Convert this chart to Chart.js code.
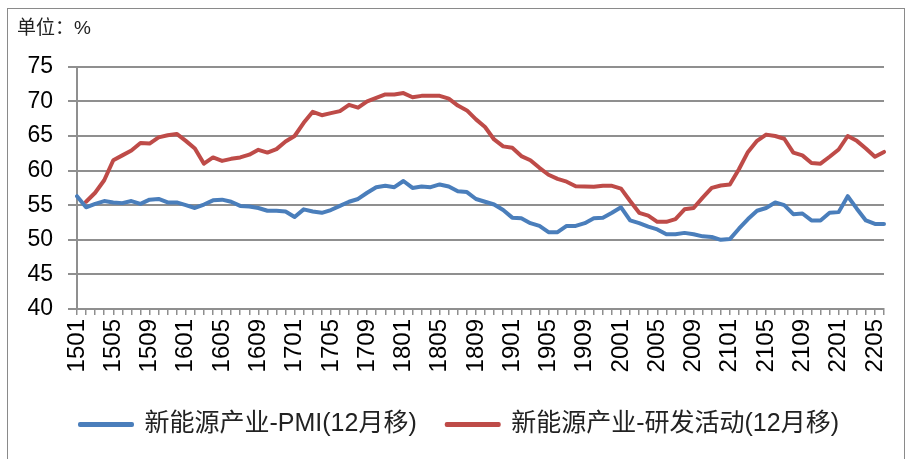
<!DOCTYPE html>
<html>
<head>
<meta charset="utf-8">
<script src="https://cdn.jsdelivr.net/npm/chart.js@4/dist/chart.umd.min.js"></script>
<style>
  html, body { margin: 0; padding: 0; background: #fff; }
  #wrap { width: 907px; height: 459px; position: relative; }
</style>
</head>
<body>
<div id="wrap"><canvas id="line-chart"></canvas></div>
<script>
// Data Stuff

var months = ['1501','1502','1503','1504','1505','1506','1507','1508','1509','1510','1511','1512',
  '1601','1602','1603','1604','1605','1606','1607','1608','1609','1610','1611','1612',
  '1701','1702','1703','1704','1705','1706','1707','1708','1709','1710','1711','1712',
  '1801','1802','1803','1804','1805','1806','1807','1808','1809','1810','1811','1812',
  '1901','1902','1903','1904','1905','1906','1907','1908','1909','1910','1911','1912',
  '2001','2002','2003','2004','2005','2006','2007','2008','2009','2010','2011','2012',
  '2101','2102','2103','2104','2105','2106','2107','2108','2109','2110','2111','2112',
  '2201','2202','2203','2204','2205','2206'];

var pmi = [56.3,54.7,55.2,55.6,55.4,55.3,55.6,55.2,55.8,55.9,55.4,55.4,
  55.0,54.6,55.1,55.7,55.8,55.5,54.9,54.8,54.6,54.2,54.2,54.1,
  53.3,54.4,54.1,53.9,54.3,54.9,55.5,55.9,56.8,57.6,57.8,57.6,
  58.5,57.5,57.7,57.6,58.0,57.7,57.0,56.9,55.9,55.5,55.1,54.3,
  53.2,53.1,52.4,52.0,51.1,51.1,52.0,52.0,52.4,53.1,53.2,53.9,
  54.7,52.8,52.4,51.9,51.5,50.8,50.8,51.0,50.8,50.5,50.4,50.0,
  50.1,51.6,53.0,54.2,54.6,55.4,55.0,53.7,53.8,52.8,52.8,53.9,
  54.0,56.3,54.5,52.8,52.3,52.3];

var rnd = [null,55.5,56.8,58.6,61.5,62.2,62.9,64.0,63.9,64.8,65.1,65.3,
  64.3,63.2,61.0,61.9,61.4,61.7,61.9,62.3,63.0,62.6,63.1,64.2,
  65.0,66.9,68.5,68.0,68.3,68.6,69.5,69.1,70.0,70.5,71.0,71.0,
  71.2,70.6,70.8,70.8,70.8,70.4,69.4,68.7,67.4,66.3,64.5,63.5,
  63.3,62.1,61.5,60.4,59.4,58.8,58.4,57.75,57.7,57.65,57.8,57.8,
  57.4,55.6,53.9,53.5,52.6,52.6,53.0,54.4,54.6,56.1,57.5,57.85,
  58.0,60.2,62.7,64.3,65.2,65.0,64.6,62.6,62.2,61.1,61.0,62.0,
  63.05,65.0,64.3,63.2,62.0,62.7];

var names = ['新能源产业-PMI(12月移)', '新能源产业-研发活动(12月移)'];
var unitText = '单位：%';

// Chart Stuff

const fontFam = "'Liberation Sans', 'Noto Sans CJK SC', sans-serif";
const gridCol = '#8f8f8f';

const framePlugin = {
  id: 'frame',
  afterLayout(chart) {
    // nudge legend a little right, like the original
    chart.legend.left += 9;
    chart.legend.right += 9;
  },
  beforeDraw(chart) {
    const ctx = chart.ctx;
    ctx.save();
    ctx.fillStyle = '#ffffff';
    ctx.fillRect(0, 0, chart.width, chart.height);
    ctx.strokeStyle = '#8a8a8a';
    ctx.lineWidth = 1;
    ctx.strokeRect(7.5, 8.5, 897, 470);
    ctx.restore();
  }
};

const chartthis = new Chart(document.getElementById('line-chart'), {
  type: 'line',
  data: {
    labels: months,
    datasets: [{
      label: names[0],
      data: pmi,
      borderColor: '#4a7ebb',
      backgroundColor: '#4a7ebb',
      borderWidth: 4,
      pointRadius: 0,
      tension: 0,
      borderJoinStyle: 'round',
      borderCapStyle: 'round'
    }, {
      label: names[1],
      data: rnd,
      borderColor: '#be4b48',
      backgroundColor: '#be4b48',
      borderWidth: 4,
      pointRadius: 0,
      tension: 0,
      borderJoinStyle: 'round',
      borderCapStyle: 'round'
    }]
  },
  options: {
    responsive: true,
    maintainAspectRatio: false,
    animation: false,
    layout: { padding: { left: 17, right: 23, top: 0, bottom: 12 } },
    plugins: {
      title: {
        display: true,
        text: unitText,
        align: 'start',
        color: '#222',
        font: { family: fontFam, size: 19, weight: 'normal' },
        padding: { top: 17, bottom: 27 }
      },
      legend: {
        position: 'bottom',
        labels: {
          boxWidth: 52,
          boxHeight: 1,
          padding: 30,
          color: '#222',
          font: { family: fontFam, size: 25 }
        }
      },
      tooltip: { enabled: false }
    },
    scales: {
      x: {
        offset: false,
        afterFit(scale) {
          scale.height = 73;
          scale.paddingRight = 0;
          scale.paddingLeft = 0;
        },
        grid: { display: true, drawOnChartArea: false, drawTicks: true, tickLength: 6, color: gridCol, lineWidth: 1.5 },
        border: { display: true, color: gridCol, width: 2 },
        ticks: {
          autoSkip: false,
          minRotation: 90,
          maxRotation: 90,
          padding: 4,
          color: '#000',
          font: { family: fontFam, size: 24 },
          callback: function (v, i) { return i % 4 === 0 ? months[i] : ''; }
        }
      },
      y: {
        min: 40,
        max: 75,
        afterFit(scale) { scale.width = 60; },
        grid: { color: gridCol, lineWidth: 2, tickLength: 9 },
        border: { display: true, color: gridCol, width: 2 },
        ticks: {
          stepSize: 5,
          padding: 15,
          color: '#000',
          font: { family: fontFam, size: 23 }
        }
      }
    }
  },
  plugins: [framePlugin]
});
</script>
</body>
</html>
